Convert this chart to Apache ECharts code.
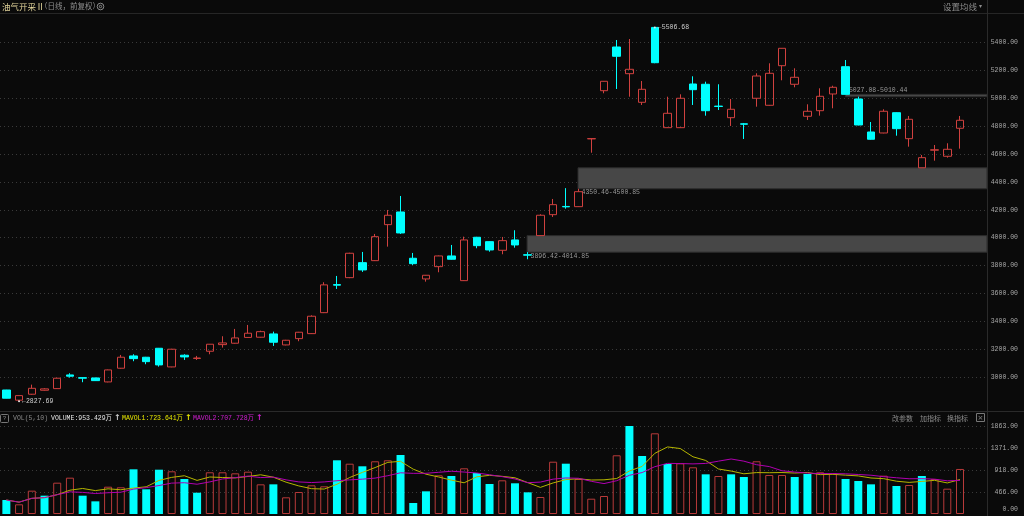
<!DOCTYPE html>
<html><head><meta charset="utf-8">
<script src="https://cdn.jsdelivr.net/npm/echarts@6/dist/echarts.min.js"></script>
<style>html,body{margin:0;padding:0;background:#0a0a0a;}#c{width:1024px;height:516px;}</style>
</head><body><div id="c"></div>
<script>
// ---------------- data ----------------
const opens  = [2909,2836,2878.6,2907,2918.7,3016.9,2997.5,2995.4,2966.7,3064.9,
                3153,3143.7,3208,3074.2,3158,3135,3186.6,3234,3244,3285.5,
                3287,3310.6,3231.8,3276.9,3312.7,3463,3664,3713.8,3821.3,3835.6,
                4093.5,4184.4,3852.8,3704.5,3792.6,3869.3,3692.3,4003.2,3971.7,3910,
                3983.9,3878,4014.85,4165.1,4224,4222.4,4708,5053.3,5366.3,5175.1,
                4970.2,5506.68,4788.3,4788.3,5101.3,5099.2,4943,4859.9,4816,4998.9,
                4948.7,5232.4,5099.2,4870,4910,5029.7,5225.2,4993.9,4757.5,4750.3,
                4895.7,4709.5,4500.85,4627,4583.4,4784];
const closes = [2850,2868.6,2921,2917,2993.2,3007.6,2993.2,2976,3052.7,3143.7,
                3133.6,3112,3088.5,3201,3145.8,3138,3236.8,3246,3281.9,3315.6,
                3327,3251.1,3265.4,3322.7,3437.3,3662,3660,3888.6,3769,4007.5,
                4160.8,4034,3814,3731,3869.3,3845.6,3983.9,3943,3912.2,3978.9,
                3948,3875,4160.8,4236.7,4221,4329.8,4710,5120.6,5299.7,5206.6,
                5063.3,5253.9,4891.4,4998.9,5060.5,4910,4940,4920.1,4813,5158.6,
                5178,5357,5149.3,4905.8,5013.2,5077.7,5027.08,4807.6,4705.2,4905.8,
                4781.1,4848.4,4573.4,4630,4633.6,4841.3];
const lows   = [2849,2827.69,2875,2904,2916,2997.5,2964.6,2974,2964,3062,
                3115,3093.5,3076.3,3072,3124.3,3124,3165,3212.4,3241,3283,
                3285,3224.6,3229,3258.3,3310,3460,3633,3710,3755,3833,
                3935.9,4027,3804.8,3685.2,3752.5,3843,3690,3924.4,3900,3881.4,
                3928.7,3845.6,4014.85,4148.6,4208,4220,4609,5034.7,5065.5,5010.3,
                4950.9,5250,4786,4786,4950.9,4874.2,4915,4800.5,4707.3,4938.7,
                4946,5127.8,5077.7,4843.4,4874.2,4927.2,5027.08,4805,4702,4748,
                4731,4652.2,4500.85,4551.9,4573.4,4637.9];
const highs  = [2910,2870,2947.4,2922,2996,3029,2999,2997,3055,3160,
                3165,3146,3210,3204,3165,3153,3238,3294,3346.4,3375,
                3334,3327,3268,3325,3444,3680.9,3726,3892,3898,4026.9,
                4198.8,4299,3890.8,3733,3872,3948,4007.5,4006,3974,4005.4,
                4053.4,3896.42,4168,4277.6,4355,4350.46,4710,5122,5416.5,5423.6,
                5122.8,5506.68,5010.3,5027.5,5156.5,5117.8,5099.2,4993.9,4822,5178,
                5249.6,5358,5213.8,4955.9,5070.5,5089,5273.2,5010.44,4829,4920.1,
                4898,4872.1,4592.7,4664.4,4676.5,4872.1];
// volume in 万
const volumes = [296,205,494,388,663,769,388,268,578,565,
                 946,523,938,904,741,451,883,883,861,896,
                 628,628,353,466,607,586,1137,1065,1010,1116,
                 1137,1249,233,480,819,804,967,868,635,713,
                 650,459,360,1107,1065,741,324,381,1243,1863,
                 1228,1708,1058,1073,989,840,804,840,783,1116,
                 826,826,783,847,883,861,741,699,628,811,
                 593,614,804,741,536,953.429];
const volTickLabels = ['0.00','466.00','918.00','1371.00','1863.00'];
// unfilled price gaps: start candle index, low, high
const gapStarts = [41, 45, 66];
const gapLows   = [3896.42, 4350.46, 5010.44];
const gapHighs  = [4014.85, 4500.85, 5027.08];

const titleText = '油气开采Ⅱ';
const subText = '（日线，前复权）';
const volHeader = ['VOL(5,10)', 'VOLUME:953.429万', 'MAVOL1:723.641万', 'MAVOL2:707.728万'];

// ---------------- layout / style ----------------
const N = opens.length;
const SP = 955 / 75, CL = -1.37, PR = 987;
const MAIN_TOP = 14.38, MAIN_BOTTOM = 516 - 405.2;
const VOL_TOP = 426, VOL_BOTTOM = 2;
const ovMin = -0.5 - CL / SP, ovMax = (PR - CL) / SP - 0.5;
const RED = '#d0413f', RED_VOL = '#b83a3a', CYAN = '#00ffff';
const MONO = "'Liberation Mono','Noto Sans CJK SC'";
const CJK = "'Noto Sans CJK SC'";
const AXIS_TXT = '#a8a8a8';

const cats = opens.map((_, i) => String(i + 1));
const candles = opens.map((o, i) => [o, closes[i], lows[i], highs[i]]);
const volData = volumes.map((v, i) => {
  const up = i === 0 ? closes[0] >= opens[0] : closes[i] >= closes[i - 1];
  return { value: v, itemStyle: up ? { color: 'transparent', borderColor: RED_VOL, borderWidth: 1 }
                                   : { color: CYAN, borderWidth: 0 } };
});
function ma(n) {
  return volumes.map((_, i) => {
    const s = Math.max(0, i - n + 1); let sum = 0;
    for (let j = s; j <= i; j++) sum += volumes[j];
    return +(sum / (i - s + 1)).toFixed(3);
  });
}
const VMAX = Math.max(...volumes);
const lastClose = closes[N - 1];
const bands = gapStarts.map((s, k) => {
  const above = gapLows[k] > lastClose;
  const txt = above ? gapHighs[k].toFixed(2) + '-' + gapLows[k].toFixed(2)
                    : gapLows[k].toFixed(2) + '-' + gapHighs[k].toFixed(2);
  return [
    { xAxis: s, yAxis: gapLows[k], name: txt,
      label: above ? { position: [4, 0], verticalAlign: 'bottom' } : { position: [4, '100%'], verticalAlign: 'top' } },
    { xAxis: ovMax, yAxis: gapHighs[k] }
  ];
});

const splitStyle = { show: true, lineStyle: { color: '#3a3a3a', type: [1, 3], width: 1 } };

const chart = echarts.init(document.getElementById('c'), null, { renderer: 'canvas' });
chart.setOption({
  backgroundColor: '#0a0a0a',
  animation: false,
  grid: [
    { left: CL, width: N * SP, top: MAIN_TOP, bottom: MAIN_BOTTOM },
    { left: 0, width: PR, top: MAIN_TOP, bottom: MAIN_BOTTOM },
    { left: CL, width: N * SP, top: VOL_TOP, bottom: VOL_BOTTOM },
    { left: 0, width: PR, top: VOL_TOP, bottom: VOL_BOTTOM }
  ],
  xAxis: [
    { type: 'category', gridIndex: 0, data: cats, show: false },
    { type: 'value', gridIndex: 1, min: ovMin, max: ovMax, show: false },
    { type: 'category', gridIndex: 2, data: cats, show: false },
    { type: 'value', gridIndex: 3, min: ovMin, max: ovMax, show: false }
  ],
  yAxis: [
    { type: 'value', gridIndex: 0, min: 2800, max: 5600, show: false },
    { type: 'value', gridIndex: 1, min: 2800, max: 5600, interval: 200, position: 'right',
      axisLine: { show: false }, axisTick: { show: false },
      axisLabel: { color: AXIS_TXT, fontSize: 6.5, fontFamily: MONO, align: 'right', margin: 31,
                   showMinLabel: false, showMaxLabel: false, formatter: v => v.toFixed(2) },
      splitLine: Object.assign({ showMinLine: false, showMaxLine: false }, splitStyle) },
    { type: 'value', gridIndex: 2, min: 0, max: VMAX, show: false },
    { type: 'value', gridIndex: 3, min: 0, max: VMAX, interval: VMAX / 4, position: 'right',
      axisLine: { show: false }, axisTick: { show: false },
      axisLabel: { color: AXIS_TXT, fontSize: 6.5, fontFamily: MONO, align: 'right', margin: 31,
                   showMinLabel: false,
                   formatter: v => volTickLabels[Math.round(v / (VMAX / 4))] },
      splitLine: Object.assign({ showMinLine: false }, splitStyle) }
  ],
  series: [
    { type: 'line', xAxisIndex: 1, yAxisIndex: 1, data: [], z: 1, silent: true,
      markArea: { silent: true, z: 1,
        itemStyle: { color: '#474747', borderColor: '#2c2c2c', borderWidth: 1 },
        label: { show: true, color: '#9a9a9a', fontSize: 6.5, fontFamily: MONO, formatter: '{b}' },
        data: bands } },
    { type: 'candlestick', xAxisIndex: 0, yAxisIndex: 0, data: candles, barWidth: 8, z: 3,
      itemStyle: { color: 'transparent', color0: CYAN, borderColor: RED, borderColor0: CYAN, borderWidth: 1 },
      markPoint: { symbol: 'circle', symbolSize: 2, itemStyle: { color: '#e0e0e0' },
        label: { show: true, position: 'right', distance: 2, color: '#cfcfcf', fontSize: 6.5, fontFamily: MONO,
                 formatter: p => '←' + Number(p.value).toFixed(2) },
        data: [{ type: 'max', valueDim: 'highest' }, { type: 'min', valueDim: 'lowest' }] } },
    { type: 'bar', xAxisIndex: 2, yAxisIndex: 2, data: volData, barWidth: 8, z: 2 },
    { type: 'line', xAxisIndex: 2, yAxisIndex: 2, data: ma(5), symbol: 'none', z: 4,
      lineStyle: { color: '#b5b500', width: 1 } },
    { type: 'line', xAxisIndex: 2, yAxisIndex: 2, data: ma(10), symbol: 'none', z: 4,
      lineStyle: { color: '#b000b0', width: 1 } }
  ],
  graphic: [
    { type: 'line', shape: { x1: 0, y1: 13.5, x2: 1024, y2: 13.5 }, style: { stroke: '#262626', lineWidth: 1 }, silent: true },
    { type: 'line', shape: { x1: 0, y1: 411.5, x2: 1024, y2: 411.5 }, style: { stroke: '#2a2a2a', lineWidth: 1 }, silent: true },
    { type: 'line', shape: { x1: 987.5, y1: 0, x2: 987.5, y2: 516 }, style: { stroke: '#2a2a2a', lineWidth: 1 }, silent: true },
    { type: 'text', x: 2, y: 6.5, style: { text: titleText, fill: '#e3d59b', fontSize: 8.5, fontFamily: CJK, verticalAlign: 'middle' } },
    { type: 'text', x: 40, y: 6.5, style: { text: subText, fill: '#8e8e8e', fontSize: 7.5, fontFamily: CJK, verticalAlign: 'middle' } },
    { type: 'circle', shape: { cx: 100.5, cy: 6.5, r: 3.3 }, style: { fill: 'none', stroke: '#8a8a8a', lineWidth: 1 } },
    { type: 'circle', shape: { cx: 100.5, cy: 6.5, r: 1.2 }, style: { fill: 'none', stroke: '#8a8a8a', lineWidth: 1 } },
    { type: 'text', x: 943, y: 6.5, style: { text: '设置均线', fill: '#8c8c8c', fontSize: 8.5, fontFamily: CJK, verticalAlign: 'middle' } },
    { type: 'text', x: 979, y: 6.5, style: { text: '▾', fill: '#8c8c8c', fontSize: 6, fontFamily: 'DejaVu Sans', verticalAlign: 'middle' } },
    // volume header
    { type: 'rect', shape: { x: 0.5, y: 414.5, width: 8, height: 8, r: 1 }, style: { fill: 'none', stroke: '#777', lineWidth: 1 } },
    { type: 'text', x: 4.5, y: 418.8, style: { text: '?', fill: '#8a8a8a', fontSize: 6, fontFamily: MONO, align: 'center', verticalAlign: 'middle' } },
    { type: 'text', x: 13, y: 418.3, style: { text: volHeader[0], fill: '#8a8a8a', fontSize: 6.5, fontFamily: MONO, verticalAlign: 'middle' } },
    { type: 'text', x: 51, y: 418.3, style: { text: volHeader[1], fill: '#e6e6e6', fontSize: 6.5, fontFamily: MONO, verticalAlign: 'middle' } },
    { type: 'text', x: 114, y: 418.3, style: { text: '↑', fill: '#cfcfcf', fontSize: 8, fontWeight: 'bold', fontFamily: 'DejaVu Sans', verticalAlign: 'middle' } },
    { type: 'text', x: 122, y: 418.3, style: { text: volHeader[2], fill: '#e6e600', fontSize: 6.5, fontFamily: MONO, verticalAlign: 'middle' } },
    { type: 'text', x: 185, y: 418.3, style: { text: '↑', fill: '#e6e600', fontSize: 8, fontWeight: 'bold', fontFamily: 'DejaVu Sans', verticalAlign: 'middle' } },
    { type: 'text', x: 193, y: 418.3, style: { text: volHeader[3], fill: '#d21ed2', fontSize: 6.5, fontFamily: MONO, verticalAlign: 'middle' } },
    { type: 'text', x: 256, y: 418.3, style: { text: '↑', fill: '#d21ed2', fontSize: 8, fontWeight: 'bold', fontFamily: 'DejaVu Sans', verticalAlign: 'middle' } },
    { type: 'text', x: 892, y: 418.3, style: { text: '改参数', fill: '#8c8c8c', fontSize: 7, fontFamily: CJK, verticalAlign: 'middle' } },
    { type: 'text', x: 920, y: 418.3, style: { text: '加指标', fill: '#8c8c8c', fontSize: 7, fontFamily: CJK, verticalAlign: 'middle' } },
    { type: 'text', x: 947, y: 418.3, style: { text: '换指标', fill: '#8c8c8c', fontSize: 7, fontFamily: CJK, verticalAlign: 'middle' } },
    { type: 'rect', shape: { x: 976.5, y: 413.5, width: 8, height: 8 }, style: { fill: 'none', stroke: '#777', lineWidth: 1 } },
    { type: 'text', x: 980.5, y: 417.8, style: { text: '×', fill: '#8c8c8c', fontSize: 7, fontFamily: 'DejaVu Sans', align: 'center', verticalAlign: 'middle' } },
    { type: 'text', x: 1018, y: 509.3, style: { text: volTickLabels[0], fill: AXIS_TXT, fontSize: 6.5, fontFamily: MONO, align: 'right', verticalAlign: 'middle' } }
  ]
});
</script>
</body></html>
